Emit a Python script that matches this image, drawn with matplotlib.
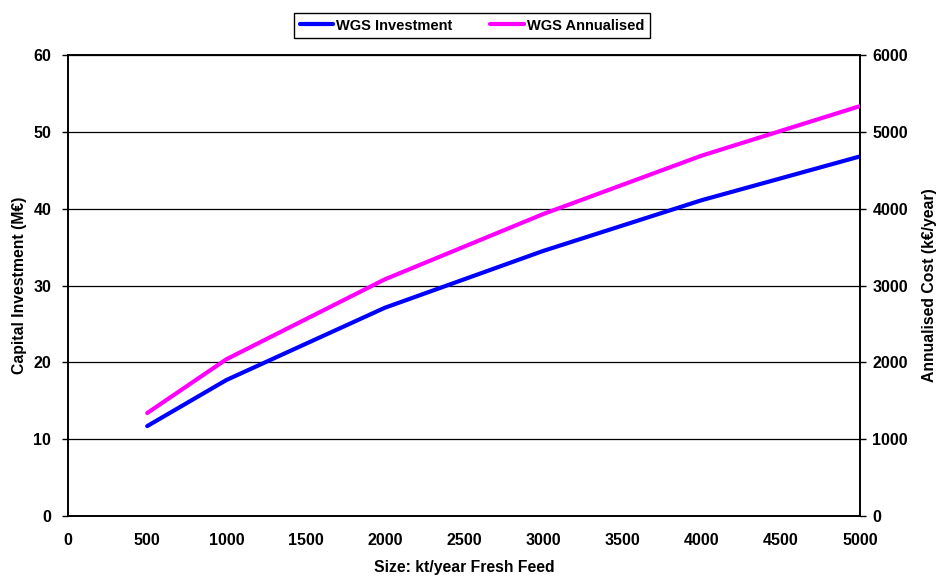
import matplotlib
matplotlib.use("Agg")
import matplotlib.pyplot as plt

plt.rcParams['font.family'] = ['Liberation Sans', 'DejaVu Sans']
plt.rcParams['font.weight'] = 'bold'

size = [500, 1000, 2000, 3000, 4000, 5000]
investment = [11.7, 17.7, 27.1, 34.5, 41.1, 46.8]
annualised = [1340, 2040, 3080, 3930, 4690, 5335]

fig = plt.figure(figsize=(9.37, 5.76), dpi=100)
ax = fig.add_axes([68/937, 1-516/576, 792/937, 461/576])
ax2 = ax.twinx()

l1, = ax.plot(size, investment, color='#0000FF', lw=3, solid_capstyle='round', zorder=3)
l2, = ax2.plot(size, annualised, color='#FF00FF', lw=3, solid_capstyle='round', zorder=3)

ax.set_xlim(0, 5000)
ax.set_ylim(0, 60)
ax2.set_ylim(0, 6000)
ax.set_xticks(range(0, 5001, 500))
ax.set_yticks(range(0, 61, 10))
ax2.set_yticks(range(0, 6001, 1000))
ax.yaxis.grid(True, color='black', lw=0.9)
ax.set_axisbelow(True)

for a in (ax, ax2):
    for s in a.spines.values():
        s.set_linewidth(1.2)
ax.tick_params(axis='x', length=0, pad=12, labelsize=11.5)
ax.tick_params(axis='y', length=4, width=1, direction='out', labelsize=11.5, pad=8)
ax2.tick_params(axis='y', length=4, width=1, direction='out', labelsize=11.5, pad=5)
for lab in ax.get_xticklabels() + ax.get_yticklabels() + ax2.get_yticklabels():
    lab.set_fontweight('bold')

ax.set_xlabel('Size: kt/year Fresh Feed', fontsize=11.3, fontweight='bold', labelpad=9)
ax.set_ylabel('Capital Investment (M\u20ac)', fontsize=11.3, fontweight='bold', labelpad=5)
ax2.set_ylabel('Annualised Cost (k\u20ac/year)', fontsize=11.3, fontweight='bold', labelpad=10)

leg = fig.legend([l1, l2], ['WGS Investment', 'WGS Annualised'], ncol=2,
                 loc='center', bbox_to_anchor=(472/937, 1-25.5/576),
                 fancybox=False, edgecolor='black', framealpha=1,
                 prop={'weight': 'bold', 'size': 10.5}, handlelength=2.3,
                 handletextpad=0.2, columnspacing=2.6, borderpad=0.4)
leg.get_frame().set_linewidth(1.0)

fig.savefig('out.png', dpi=100)
